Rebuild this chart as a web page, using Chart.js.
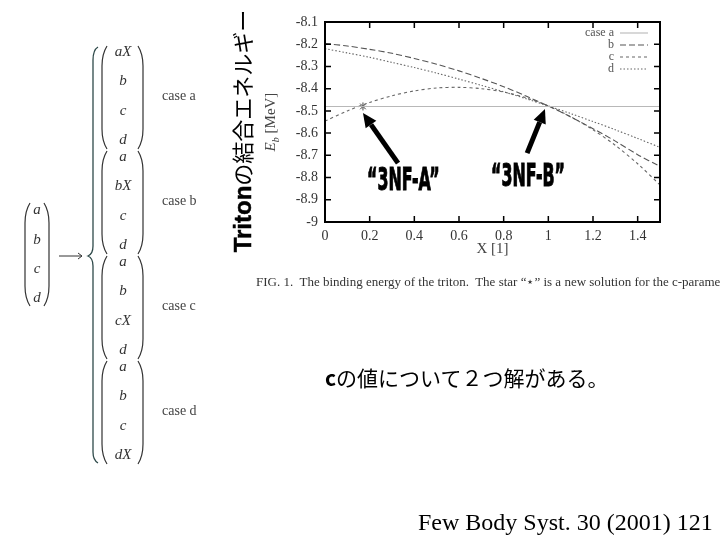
<!DOCTYPE html>
<html>
<head>
<meta charset="utf-8">
<script src="https://cdn.jsdelivr.net/npm/chart.js@4.4.0/dist/chart.umd.min.js"></script>
<style>
  html, body { margin: 0; padding: 0; background: #fff; }
  #page { position: relative; width: 720px; height: 540px; overflow: hidden; }
  #page canvas { position: absolute; left: 0; top: 0; }
  .t { position: absolute; white-space: nowrap; line-height: 1; }
  .m { font-family: "Liberation Serif", serif; font-style: italic; font-size: 15px; color: #333; transform: translateX(-50%); }
  .case { font-family: "Liberation Serif", serif; font-size: 14px; color: #444; }
  .nf { font-family: "Liberation Sans Narrow", "DejaVu Sans Condensed", sans-serif; font-weight: bold; font-size: 22px; color: #000; -webkit-text-stroke: 0.7px #000; transform-origin: left top; transform: scale(0.8, 1.45); }
</style>
</head>
<body>
<div id="page">
  <canvas id="myChart" width="720" height="540"></canvas>

  <div class="t" style="left:119px; top:119px; width:244px; height:24px; line-height:24px; text-align:center; transform:rotate(-90deg);">
    <span style="font-family:'Liberation Sans Narrow',sans-serif; font-weight:bold; font-size:24px; -webkit-text-stroke:0.5px #000;">Triton</span><span style="font-family:'Noto Sans CJK JP',sans-serif; font-size:22px;">の結合エネルギー</span>
  </div>

  <div class="t" style="left:272px; top:122px; transform:translate(-50%,-50%) rotate(-90deg); font-family:'Liberation Serif',serif; font-size:15px; color:#444;"><i>E<sub style="font-size:10px;">b</sub></i> [MeV]</div>

  <div class="t nf" style="left:367px; top:164px;">“3NF-A”</div>
  <div class="t nf" style="left:491px; top:160px;">“3NF-B”</div>

  <div class="t" style="left:256px; top:275px; font-family:'Liberation Serif',serif; font-size:13px; color:#333;">FIG. 1.&nbsp; The binding energy of the triton.&nbsp; The star “⋆” is a new solution for the c-parameter.</div>

  <div class="t" style="left:325px; top:367px; font-family:'Noto Sans CJK JP',sans-serif; font-size:21px; color:#000;"><b>c</b>の値について２つ解がある。</div>

  <div class="t" style="left:418px; top:510px; font-family:'Liberation Serif',serif; font-size:24px; color:#000;">Few Body Syst. 30 (2001) 121</div>
</div>

<script>
// binding energy of the triton, E_b [MeV] vs X
const xValues = [0, 0.1, 0.2, 0.3, 0.4, 0.5, 0.6, 0.7, 0.8, 0.9, 1.0, 1.1, 1.2, 1.3, 1.4, 1.5];
const caseA = [-8.48, -8.48, -8.48, -8.48, -8.48, -8.48, -8.48, -8.48, -8.48, -8.48, -8.48, -8.48, -8.48, -8.48, -8.48, -8.48];
const caseB = [-8.197, -8.208, -8.223, -8.241, -8.264, -8.290, -8.320, -8.354, -8.391, -8.433, -8.478, -8.527, -8.580, -8.636, -8.697, -8.750];
const caseC = [-8.546, -8.500, -8.462, -8.432, -8.410, -8.397, -8.394, -8.400, -8.415, -8.441, -8.478, -8.526, -8.585, -8.655, -8.738, -8.833];
const caseD = [-8.220, -8.239, -8.259, -8.282, -8.305, -8.330, -8.357, -8.385, -8.414, -8.445, -8.478, -8.512, -8.548, -8.585, -8.624, -8.664];
const seriesLabels = ["case a", "b", "c", "d"];

// the star: new solution on case c
const starX = [0.17];
const starY = [-8.48];

const xTicks = [0, 0.2, 0.4, 0.6, 0.8, 1, 1.2, 1.4];
const yTicks = [-9, -8.9, -8.8, -8.7, -8.6, -8.5, -8.4, -8.3, -8.2, -8.1];

// arrows "3NF-A" / "3NF-B" in data coords [x, y]
const arrows = [
  { from: [0.327, -8.735], to: [0.17, -8.51] },
  { from: [0.905, -8.69], to: [0.985, -8.492] }
];

// left-hand diagram
const vectorRows = ["a", "b", "c", "d"];
const blocks = [
  ["aX", "b", "c", "d"],
  ["a", "bX", "c", "d"],
  ["a", "b", "cX", "d"],
  ["a", "b", "c", "dX"]
];
const caseNames = ["case a", "case b", "case c", "case d"];

const page = document.getElementById("page");
function addText(cls, txt, left, top) {
  const d = document.createElement("div");
  d.className = "t " + cls;
  d.textContent = txt;
  d.style.left = left + "px";
  d.style.top = top + "px";
  page.appendChild(d);
}
const vecY = [210, 240, 269, 298];
vectorRows.forEach((r, i) => addText("m", r, 37, vecY[i] - 8));
const rowOff = [7, 36, 66, 95];
blocks.forEach((b, i) => {
  b.forEach((r, j) => addText("m", r, 123, 45 + 105 * i + rowOff[j] - 8));
  addText("case", caseNames[i], 162, 97 + 105 * i - 8);
});

function series(ys) {
  return xValues.map((x, i) => ({ x: x, y: ys[i] }));
}

const styles = [
  { color: "#b8b8b8", dash: [] },
  { color: "#555", dash: [6, 3] },
  { color: "#666", dash: [3, 3] },
  { color: "#666", dash: [1.5, 2] }
];
const allSeries = [caseA, caseB, caseC, caseD];

const datasets = allSeries.map((ys, i) => ({
  type: "line",
  label: seriesLabels[i],
  data: series(ys),
  borderColor: styles[i].color,
  borderDash: styles[i].dash,
  borderWidth: 1.1,
  pointRadius: 0,
  tension: 0.3,
  fill: false
}));
datasets.push({
  type: "scatter",
  label: "star",
  data: starX.map((x, i) => ({ x: x, y: starY[i] })),
  pointStyle: "star",
  radius: 4,
  borderColor: "#444",
  borderWidth: 1
});

const serif = "'Liberation Serif', serif";

const decor = {
  id: "decor",
  afterDraw(chart) {
    const ctx = chart.ctx;
    const a = chart.chartArea;
    const xs = chart.scales.x, ys = chart.scales.y;
    ctx.save();

    // frame + inward ticks
    ctx.strokeStyle = "#000";
    ctx.lineWidth = 2;
    ctx.setLineDash([]);
    ctx.strokeRect(a.left, a.top, a.right - a.left, a.bottom - a.top);
    ctx.lineWidth = 1.5;
    ctx.beginPath();
    xs.ticks.forEach(t => {
      const px = xs.getPixelForValue(t.value);
      ctx.moveTo(px, a.bottom); ctx.lineTo(px, a.bottom - 6);
      ctx.moveTo(px, a.top); ctx.lineTo(px, a.top + 6);
    });
    ys.ticks.forEach(t => {
      const py = ys.getPixelForValue(t.value);
      ctx.moveTo(a.left, py); ctx.lineTo(a.left + 6, py);
      ctx.moveTo(a.right, py); ctx.lineTo(a.right - 6, py);
    });
    ctx.stroke();

    // legend, top right inside the frame
    ctx.font = "12px " + serif;
    ctx.textAlign = "right";
    ctx.textBaseline = "middle";
    chart.data.datasets.slice(0, 4).forEach((ds, i) => {
      const y = a.top + 11 + 12 * i;
      ctx.fillStyle = "#555";
      ctx.fillText(ds.label, a.right - 46, y);
      ctx.strokeStyle = ds.borderColor;
      ctx.lineWidth = 1.1;
      ctx.setLineDash(ds.borderDash);
      ctx.beginPath();
      ctx.moveTo(a.right - 40, y);
      ctx.lineTo(a.right - 12, y);
      ctx.stroke();
    });
    ctx.setLineDash([]);

    // arrows
    ctx.fillStyle = "#000";
    ctx.strokeStyle = "#000";
    arrows.forEach(ar => {
      const x0 = xs.getPixelForValue(ar.from[0]), y0 = ys.getPixelForValue(ar.from[1]);
      const x1 = xs.getPixelForValue(ar.to[0]), y1 = ys.getPixelForValue(ar.to[1]);
      const ang = Math.atan2(y1 - y0, x1 - x0);
      const hl = 14, hw = 6.5;
      const bx = x1 - hl * Math.cos(ang), by = y1 - hl * Math.sin(ang);
      ctx.lineWidth = 5;
      ctx.beginPath();
      ctx.moveTo(x0, y0);
      ctx.lineTo(bx, by);
      ctx.stroke();
      ctx.beginPath();
      ctx.moveTo(x1, y1);
      ctx.lineTo(bx + hw * Math.sin(ang), by - hw * Math.cos(ang));
      ctx.lineTo(bx - hw * Math.sin(ang), by + hw * Math.cos(ang));
      ctx.closePath();
      ctx.fill();
    });

    // matrix diagram on the left
    ctx.strokeStyle = "#333";
    ctx.lineWidth = 1.2;
    function parens(xl, xr, y0, y1) {
      ctx.beginPath();
      ctx.moveTo(xl + 5, y0);
      ctx.quadraticCurveTo(xl, y0 + 8, xl, y0 + 20);
      ctx.lineTo(xl, y1 - 20);
      ctx.quadraticCurveTo(xl, y1 - 8, xl + 5, y1);
      ctx.moveTo(xr - 5, y0);
      ctx.quadraticCurveTo(xr, y0 + 8, xr, y0 + 20);
      ctx.lineTo(xr, y1 - 20);
      ctx.quadraticCurveTo(xr, y1 - 8, xr - 5, y1);
      ctx.stroke();
    }
    parens(25, 49, 203, 306);
    blocks.forEach((b, i) => parens(102, 143, 46 + 105 * i, 149 + 105 * i));

    // arrow between vector and brace
    ctx.lineWidth = 1;
    ctx.beginPath();
    ctx.moveTo(59, 256); ctx.lineTo(82, 256);
    ctx.moveTo(78, 253); ctx.lineTo(82, 256); ctx.lineTo(78, 259);
    ctx.stroke();

    // big brace
    ctx.strokeStyle = "#2f4a4a";
    ctx.lineWidth = 1.3;
    ctx.beginPath();
    ctx.moveTo(98, 47);
    ctx.quadraticCurveTo(93, 50, 93, 60);
    ctx.lineTo(93, 246);
    ctx.quadraticCurveTo(93, 254, 88, 256);
    ctx.quadraticCurveTo(93, 258, 93, 266);
    ctx.lineTo(93, 452);
    ctx.quadraticCurveTo(93, 460, 98, 463);
    ctx.stroke();

    ctx.restore();
  }
};

new Chart(document.getElementById("myChart"), {
  data: { datasets: datasets },
  options: {
    responsive: false,
    animation: false,
    layout: { padding: { left: 255, top: 22, right: 60, bottom: 280 } },
    plugins: {
      legend: { display: false },
      tooltip: { enabled: false }
    },
    scales: {
      x: {
        type: "linear",
        min: 0,
        max: 1.5,
        afterBuildTicks: s => { s.ticks = xTicks.map(v => ({ value: v })); },
        afterFit: s => { s.height = 38; },
        grid: { display: false, drawTicks: false },
        border: { display: false },
        ticks: {
          font: { family: serif, size: 14 },
          color: "#333",
          padding: 6,
          maxRotation: 0,
          autoSkip: false,
          callback: v => String(v)
        },
        title: {
          display: true,
          text: "X [1]",
          font: { family: serif, size: 15 },
          color: "#444",
          padding: { top: 0, bottom: 2 }
        }
      },
      y: {
        type: "linear",
        min: -9,
        max: -8.1,
        afterBuildTicks: s => { s.ticks = yTicks.map(v => ({ value: v })); },
        afterFit: s => { s.width = 70; },
        grid: { display: false, drawTicks: false },
        border: { display: false },
        ticks: {
          font: { family: serif, size: 14 },
          color: "#333",
          padding: 7,
          autoSkip: false,
          callback: v => String(Math.round(v * 10) / 10)
        }
      }
    }
  },
  plugins: [decor]
});
</script>
</body>
</html>
